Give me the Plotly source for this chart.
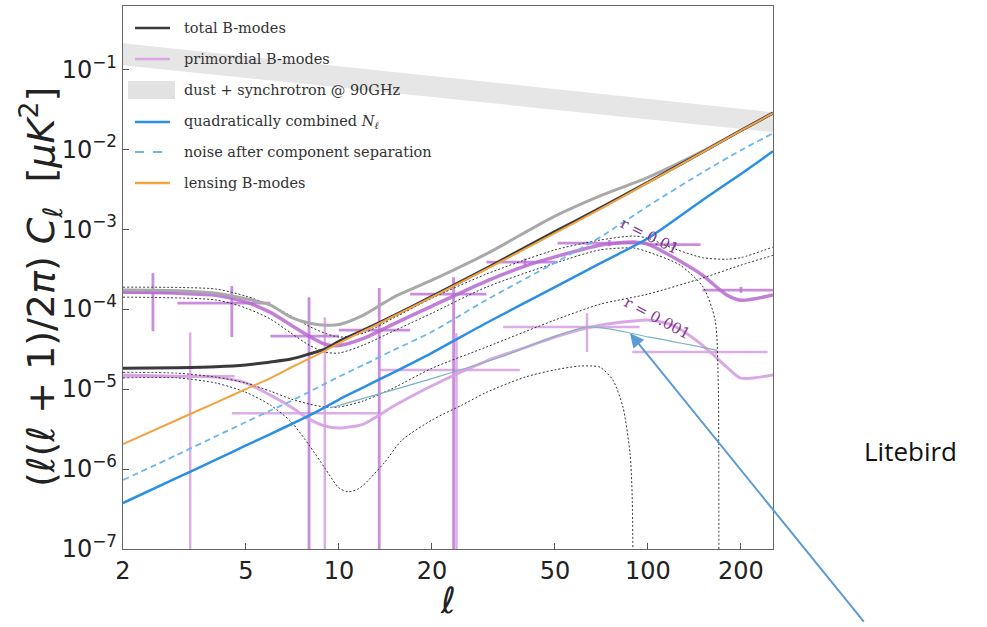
import numpy as np
import plotly.graph_objects as go

# ---------------------------------------------------------------------------
# B-mode spectra, D_ell = ell(ell+1)C_ell/2pi  [muK^2]
# ---------------------------------------------------------------------------
ell_t = [2, 3, 4, 5, 6, 7, 8, 9, 10, 12, 15, 20, 30, 50, 70, 100, 150, 200, 254]
lensing_bb = [2.05e-6, 4.13e-6, 6.78e-6, 1.0e-5, 1.37e-5, 1.86e-5, 2.4e-5, 3.0e-5, 3.76e-5,
              5.3e-5, 8.1e-5, 1.41e-4, 3.16e-4, 8.9e-4, 1.78e-3, 3.8e-3, 9.1e-3, 1.7e-2, 2.82e-2]
total_r001 = [1.82e-5, 1.85e-5, 1.9e-5, 2.0e-5, 2.18e-5, 2.37e-5, 2.74e-5, 3.16e-5, 3.95e-5,
              5.45e-5, 8.25e-5, 1.44e-4, 3.24e-4, 9.3e-4, 1.83e-3, 3.86e-3, 9.15e-3, 1.71e-2, 2.83e-2]
total_r01 = [1.73e-4, 1.7e-4, 1.58e-4, 1.35e-4, 1.12e-4, 7.9e-5, 6.7e-5, 6.3e-5, 6.4e-5,
             8.4e-5, 1.4e-4, 2.3e-4, 4.9e-4, 1.45e-3, 2.6e-3, 4.45e-3, 9.4e-3, 1.72e-2, 2.84e-2]
noise_comb = [3.76e-7, 7.8e-7, 1.31e-6, 1.97e-6, 2.74e-6, 3.63e-6, 4.65e-6, 5.9e-6, 7.4e-6,
              1.05e-5, 1.61e-5, 2.84e-5, 6.7e-5, 1.88e-4, 3.73e-4, 7.7e-4, 2.3e-3, 4.9e-3, 9.4e-3]
noise_compsep = [7.3e-7, 1.51e-6, 2.57e-6, 3.87e-6, 5.4e-6, 7.1e-6, 9.2e-6, 1.16e-5, 1.43e-5,
                 2.0e-5, 3.06e-5, 5.2e-5, 1.3e-4, 3.8e-4, 7.9e-4, 1.94e-3, 5.1e-3, 9.7e-3, 1.58e-2]

ell_p = [2, 3, 4, 5, 6, 7, 8, 9, 10, 12, 15, 20, 30, 40, 50, 70, 90, 100, 120, 150, 180, 200, 254]
prim_r01 = [1.63e-4, 1.58e-4, 1.49e-4, 1.22e-4, 9.1e-5, 6.3e-5, 4.6e-5, 3.65e-5, 3.5e-5, 4.3e-5,
            6.5e-5, 1.09e-4, 2.24e-4, 3.45e-4, 4.5e-4, 6.3e-4, 6.9e-4, 6.5e-4, 4.5e-4, 2.66e-4,
            1.5e-4, 1.29e-4, 1.5e-4]
prim_r001 = [1.5e-5, 1.45e-5, 1.41e-5, 1.19e-5, 8.4e-6, 5.96e-6, 4.2e-6, 3.45e-6, 3.25e-6, 3.65e-6,
             6.1e-6, 1.1e-5, 2.24e-5, 3.3e-5, 4.47e-5, 6.3e-5, 7.1e-5, 7.3e-5, 6.3e-5, 3.55e-5,
             1.88e-5, 1.37e-5, 1.5e-5]

# uncertainty envelopes around the r = 0.01 model (0 = bound reaches zero)
ell_up01 = [2, 4, 5, 6, 7, 8, 9, 10, 12, 15, 20, 30, 50, 70, 90, 100, 120, 150, 180, 200, 254]
up01 = [1.88e-4, 1.78e-4, 1.45e-4, 1.12e-4, 8.2e-5, 6.1e-5, 5.0e-5, 4.47e-5, 5.0e-5, 7.7e-5,
        1.37e-4, 2.74e-4, 5.5e-4, 7.3e-4, 8.2e-4, 7.7e-4, 5.8e-4, 4.4e-4, 4.2e-4, 4.4e-4, 5.96e-4]
ell_lo01 = [2, 4, 5, 6, 7, 8, 9, 10, 12, 15, 20, 30, 50, 70, 90, 100, 127, 151, 165, 169,
            169.5, 170]
lo01 = [1.41e-4, 1.3e-4, 1.03e-4, 7.5e-5, 5.0e-5, 3.55e-5, 2.9e-5, 2.82e-5, 3.55e-5, 5.3e-5,
        8.9e-5, 1.88e-4, 3.76e-4, 5.5e-4, 5.8e-4, 5.2e-4, 3.55e-4, 1.88e-4, 7.3e-5, 1.06e-5,
        1.74e-6, 0]

# uncertainty envelopes around the r = 0.001 model
ell_up001 = [2, 3, 4, 5, 6, 7, 8, 9, 10, 12, 15, 20, 30, 50, 70, 100, 150, 200, 254]
up001 = [1.62e-5, 1.58e-5, 1.41e-5, 1.19e-5, 9.4e-6, 7.5e-6, 6.5e-6, 5.96e-6, 5.96e-6, 7.1e-6,
         1.03e-5, 1.82e-5, 3.35e-5, 7.3e-5, 1.15e-4, 1.54e-4, 2.44e-4, 3.55e-4, 4.7e-4]
ell_lo001 = [2, 3, 4, 5, 6, 7, 8, 9, 10, 10.7, 11.5, 12, 14, 16, 20, 25, 30, 40, 50, 60, 66,
             70, 77, 83, 87.5, 89, 90]
lo001 = [1.38e-5, 1.38e-5, 1.19e-5, 9.1e-6, 6.3e-6, 3.9e-6, 2.0e-6, 1.03e-6, 5.8e-7, 5.2e-7,
         5.6e-7, 6.3e-7, 1.19e-6, 2.3e-6, 4.1e-6, 6.3e-6, 9.1e-6, 1.41e-5, 1.74e-5, 1.94e-5,
         1.94e-5, 1.88e-5, 1.3e-5, 5.96e-6, 1.58e-6, 4.1e-7, 0]

# forecast sensitivity curve
ell_sens = [9.35, 20.2, 33.2, 63.5, 101, 167]
sens = [5.8e-6, 1.37e-5, 2.5e-5, 5.96e-5, 4.47e-5, 3.07e-5]

# foregrounds at 90 GHz (band edges)
ell_dust = [2, 5, 10, 23, 50, 100, 254]
dust_hi = [0.211, 0.145, 0.109, 0.0772, 0.0562, 0.0422, 0.029]
dust_lo = [0.112, 0.0778, 0.0596, 0.0422, 0.0312, 0.0237, 0.0163]

# binned band powers: bin centre, bin edges, value, lower / upper end of the error bar
bin_c_r01 = [2.5, 4.5, 8.0, 13.5, 23.5, 40, 75, 122, 200]
bin_lo_r01 = [2, 3, 6, 10, 17, 30, 51, 99, 150]
bin_hi_r01 = [3, 6, 10, 17, 30, 51, 99, 148, 254]
bp_r01 = [1.63e-4, 1.19e-4, 4.6e-5, 5.46e-5, 1.54e-4, 3.87e-4, 6.7e-4, 6.4e-4, 1.73e-4]
bp_r01_lo = [5.3e-5, 4.47e-5, 0, 0, 0, 3.5e-4, 6.1e-4, 5.9e-4, 1.6e-4]
bp_r01_hi = [2.82e-4, 1.94e-4, 1.41e-4, 1.83e-4, 2.5e-4, 4.3e-4, 7.3e-4, 6.9e-4, 1.9e-4]

bin_c_r001 = [3.3, 9.0, 24, 63.5, 166]
bin_lo_r001 = [2, 4.5, 13.6, 34, 89]
bin_hi_r001 = [4.6, 13.6, 38.5, 94, 244]
bp_r001 = [1.45e-5, 5.0e-6, 1.73e-5, 5.96e-5, 2.9e-5]
bp_r001_lo = [0, 0, 0, 2.9e-5, 2.7e-5]
bp_r001_hi = [5.1e-5, 7.9e-5, 5.0e-5, 8.9e-5, 3.1e-5]

x_ticks = [2, 5, 10, 20, 50, 100, 200]
y_ticks = [1e-7, 1e-6, 1e-5, 1e-4, 1e-3, 1e-2, 1e-1]
y_ticktext = ["10<sup>−7</sup>", "10<sup>−6</sup>", "10<sup>−5</sup>", "10<sup>−4</sup>",
              "10<sup>−3</sup>", "10<sup>−2</sup>", "10<sup>−1</sup>"]

legend_labels = ["total B-modes", "primordial B-modes", "dust + synchrotron @ 90GHz",
                 "quadratically combined <i>N<sub>ℓ</sub></i>",
                 "noise after component separation", "lensing B-modes"]

# ---------------------------------------------------------------------------
W, H = 987, 627
M_L, M_R, M_T, M_B = 123, 214, 6, 78
PW, PH = W - M_L - M_R, H - M_T - M_B
FLOOR = 1e-12  # stands in for zero on the log axis (drawn off the bottom edge)


def paper(px, py):
    return (px - M_L) / PW, (H - M_B - py) / PH


def floor(vals):
    return [v if v > 0 else FLOOR for v in vals]


fig = go.Figure()


def line(x, y, color, width, dash=None, smooth=True):
    fig.add_trace(go.Scatter(x=x, y=floor(y), mode="lines", hoverinfo="skip",
                             line=dict(color=color, width=width, dash=dash,
                                       shape="spline" if smooth else "linear",
                                       smoothing=0.7)))


def crosses(c, lo, hi, v, vlo, vhi, color, width):
    xs, ys = [], []
    for i in range(len(c)):
        xs += [lo[i], hi[i], None, c[i], c[i], None]
        ys += [v[i], v[i], None, max(vlo[i], FLOOR), vhi[i], None]
    fig.add_trace(go.Scatter(x=xs, y=ys, mode="lines", hoverinfo="skip", connectgaps=False,
                             line=dict(color=color, width=width)))


# foreground band
fig.add_trace(go.Scatter(x=ell_dust, y=dust_lo, mode="lines", line=dict(width=0),
                         hoverinfo="skip"))
fig.add_trace(go.Scatter(x=ell_dust, y=dust_hi, mode="lines", line=dict(width=0),
                         fill="tonexty", fillcolor="#e6e6e6", hoverinfo="skip"))

# binned band powers
crosses(bin_c_r001, bin_lo_r001, bin_hi_r001, bp_r001, bp_r001_lo, bp_r001_hi,
        "rgba(214,160,226,0.85)", 2.5)
crosses(bin_c_r01, bin_lo_r01, bin_hi_r01, bp_r01, bp_r01_lo, bp_r01_hi,
        "rgba(188,112,214,0.8)", 2.8)

# primordial models
line(ell_p, prim_r001, "rgba(214,160,226,0.9)", 3)
line(ell_p, prim_r01, "rgba(182,104,208,0.85)", 3.5)

# envelopes
dot = "2px,2px"
for ex, ey in [(ell_up01, up01), (ell_lo01, lo01), (ell_up001, up001), (ell_lo001, lo001)]:
    line(ex, ey, "#333333", 1, dot)

line(ell_sens, sens, "#7fb3bd", 1.2)

# totals, lensing, noise
line(ell_t, total_r01, "#a9a9a9", 3)
line(ell_t, total_r001, "#3a3a3a", 3)
line(ell_t, lensing_bb, "#f2a444", 2)
line(ell_t, noise_compsep, "#6cb6ec", 1.8, "6px,4px")
line(ell_t, noise_comb, "#2b8fe3", 2.5)

# ---------------------------------------------------------------------------
axis_font = dict(family="DejaVu Sans", size=24, color="#222222")
fig.update_xaxes(type="log", range=[np.log10(2), np.log10(254)],
                 tickmode="array", tickvals=x_ticks, ticktext=[str(t) for t in x_ticks],
                 ticks="inside", ticklen=6, tickcolor="#555555",
                 showline=True, mirror=True, linecolor="#666666", linewidth=1.3,
                 showgrid=False, zeroline=False, tickfont=axis_font)
fig.update_yaxes(type="log", range=[-7, -0.21],
                 tickmode="array", tickvals=y_ticks, ticktext=y_ticktext,
                 ticks="inside", ticklen=6, tickcolor="#555555",
                 showline=True, mirror=True, linecolor="#666666", linewidth=1.3,
                 showgrid=False, zeroline=False, tickfont=axis_font)

shapes, annots = [], []

# legend block
row_y = [28, 59, 90, 122, 152, 183]
sample_styles = [("#3a3a3a", 2.5, None), ("#dca8e4", 2.5, None), None,
                 ("#2b8fe3", 2.5, None), ("#6cb6ec", 1.8, "dash"), ("#f2a444", 2.5, None)]
for ry, sty, lab in zip(row_y, sample_styles, legend_labels):
    if sty is None:
        x0, y0 = paper(128, ry + 9)
        x1, y1 = paper(175, ry - 9)
        shapes.append(dict(type="rect", xref="paper", yref="paper", x0=x0, y0=y0, x1=x1, y1=y1,
                           fillcolor="#e2e2e2", line=dict(width=0)))
    else:
        x0, y0 = paper(135, ry)
        x1, _ = paper(170, ry)
        shapes.append(dict(type="line", xref="paper", yref="paper", x0=x0, y0=y0, x1=x1, y1=y0,
                           line=dict(color=sty[0], width=sty[1], dash=sty[2])))
    tx, ty = paper(182, ry)
    annots.append(dict(xref="paper", yref="paper", x=tx, y=ty, text=lab, showarrow=False,
                       xanchor="left", yanchor="middle",
                       font=dict(family="DejaVu Serif", size=14.5, color="#333333")))

# model labels along the curves
lab_font = dict(family="DejaVu Serif", size=15, color="#7e3590")
annots.append(dict(x=np.log10(101), y=np.log10(8.1e-4), text="r = 0.01", showarrow=False,
                   textangle=26, font=lab_font))
annots.append(dict(x=np.log10(107), y=np.log10(7.7e-5), text="r = 0.001", showarrow=False,
                   textangle=28, font=lab_font))

# axis titles
tx, ty = paper(40, 287)
annots.append(dict(xref="paper", yref="paper", x=tx, y=ty, textangle=-90, showarrow=False,
                   xanchor="center", yanchor="middle",
                   text="(<i>ℓ</i>(<i>ℓ</i> + 1)/2<i>π</i>) <i>C<sub>ℓ</sub></i>  [<i>μK</i><sup>2</sup>]",
                   font=dict(family="DejaVu Sans", size=38, color="#222222")))
tx, ty = paper(448, 600)
annots.append(dict(xref="paper", yref="paper", x=tx, y=ty, text="<i>ℓ</i>", showarrow=False,
                   xanchor="center", yanchor="middle",
                   font=dict(family="DejaVu Sans", size=36, color="#222222")))

# experiment call-out
tx, ty = paper(910, 451)
annots.append(dict(xref="paper", yref="paper", x=tx, y=ty, text="Litebird", showarrow=False,
                   xanchor="center", yanchor="middle",
                   font=dict(family="Open Sans", size=26, color="#111111")))
annots.append(dict(x=np.log10(87.5), y=np.log10(5.0e-5), text="", showarrow=True,
                   ax=235, ay=290, arrowhead=2, arrowsize=1.4, arrowwidth=2,
                   arrowcolor="#5b9bd5", standoff=0))

fig.update_layout(width=W, height=H, margin=dict(l=M_L, r=M_R, t=M_T, b=M_B),
                  paper_bgcolor="white", plot_bgcolor="white", showlegend=False,
                  shapes=shapes, annotations=annots)

fig.write_html("out.html")
